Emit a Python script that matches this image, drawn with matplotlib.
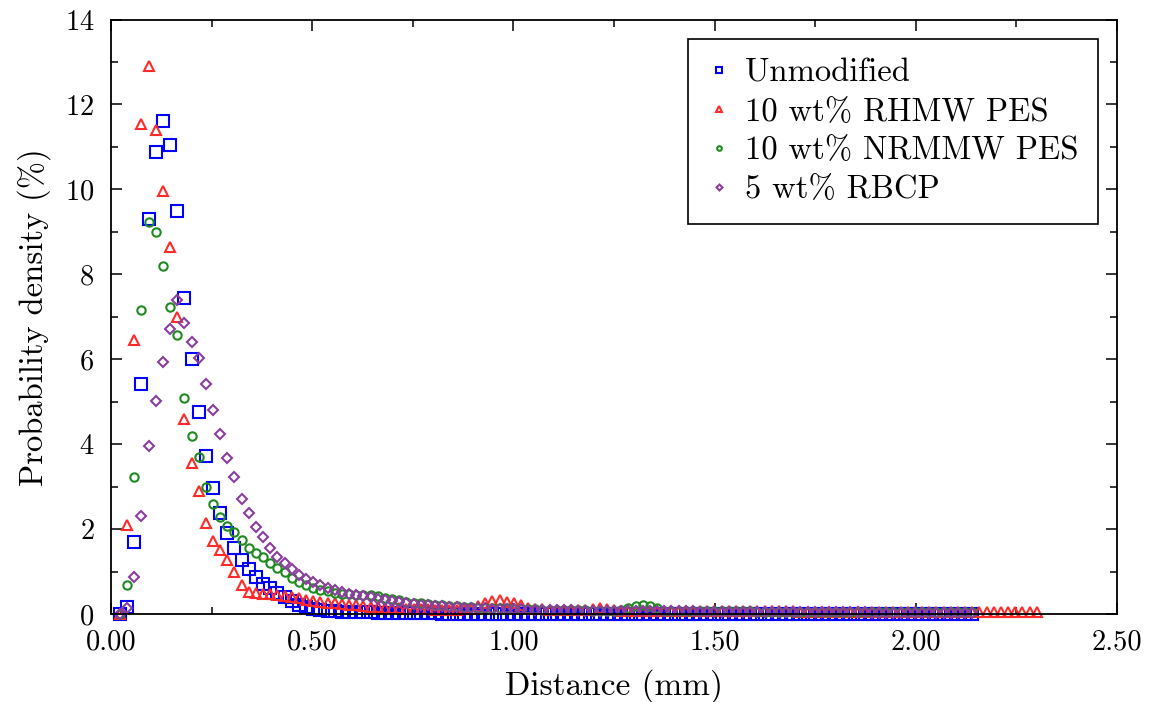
import matplotlib
matplotlib.use('Agg')
import matplotlib.pyplot as plt
from matplotlib.ticker import MultipleLocator, FormatStrFormatter
import numpy as np

plt.rcParams['font.family'] = ['cmr10', 'DejaVu Serif']
plt.rcParams['mathtext.fontset'] = 'cm'
plt.rcParams['axes.formatter.use_mathtext'] = True

# histogram bins (mm): first bin centre and bin width
bin_start = 0.022
bin_width = 0.0178

labels = ['Unmodified', '10 wt% RHMW PES', '10 wt% NRMMW PES', '5 wt% RBCP']

unmodified = [
    0.0, 0.17, 1.7, 5.42, 9.3, 10.87, 11.6, 11.04, 9.5, 7.45,
    6.0, 4.76, 3.73, 2.97, 2.38, 1.91, 1.55, 1.27, 1.06, 0.87,
    0.7, 0.6, 0.5, 0.4, 0.3, 0.22, 0.16, 0.12, 0.09, 0.07,
    0.06, 0.05, 0.05, 0.04, 0.04, 0.04, 0.03, 0.03, 0.03, 0.03,
    0.02, 0.02, 0.02, 0.02, 0.02, 0.01, 0.01, 0.0, 0.0, 0.0,
    0.0, 0.0, 0.0, 0.0, 0.0, 0.0, 0.0, 0.0, 0.0, 0.0,
    0.0, 0.0, 0.0, 0.0, 0.0, 0.0, 0.0, 0.0, 0.0, 0.0,
    0.0, 0.0, 0.0, 0.0, 0.0, 0.0, 0.01, 0.01, 0.01, 0.01,
    0.01, 0.01, 0.01, 0.01, 0.01, 0.01, 0.01, 0.01, 0.01, 0.01,
    0.01, 0.01, 0.01, 0.01, 0.01, 0.01, 0.01, 0.01, 0.01, 0.01,
    0.01, 0.01, 0.01, 0.01, 0.01, 0.01, 0.01, 0.01, 0.01, 0.01,
    0.01, 0.01, 0.01, 0.01, 0.01, 0.01, 0.01, 0.01, 0.01, 0.01,
]

rhmw = [
    0.0, 2.1, 6.45, 11.55, 12.9, 11.4, 9.95, 8.65, 7.0, 4.6,
    3.55, 2.9, 2.15, 1.72, 1.5, 1.27, 1.0, 0.68, 0.52, 0.5,
    0.48, 0.46, 0.45, 0.42, 0.4, 0.37, 0.34, 0.31, 0.29, 0.27,
    0.25, 0.23, 0.21, 0.2, 0.18, 0.17, 0.16, 0.15, 0.14, 0.13,
    0.12, 0.12, 0.11, 0.11, 0.1, 0.1, 0.1, 0.1, 0.11, 0.12,
    0.18, 0.26, 0.3, 0.33, 0.29, 0.27, 0.2, 0.14, 0.12, 0.11,
    0.1, 0.1, 0.1, 0.09, 0.09, 0.09, 0.12, 0.15, 0.12, 0.09,
    0.08, 0.08, 0.08, 0.08, 0.07, 0.07, 0.07, 0.07, 0.07, 0.07,
    0.07, 0.07, 0.06, 0.06, 0.06, 0.06, 0.06, 0.06, 0.06, 0.06,
    0.06, 0.06, 0.06, 0.06, 0.06, 0.05, 0.05, 0.05, 0.05, 0.05,
    0.05, 0.05, 0.05, 0.05, 0.05, 0.05, 0.05, 0.05, 0.05, 0.05,
    0.05, 0.05, 0.05, 0.05, 0.05, 0.04, 0.04, 0.04, 0.04, 0.04,
    0.04, 0.04, 0.04, 0.04, 0.04, 0.04, 0.04, 0.04, 0.04,
]

nrmmw = [
    0.0, 0.68, 3.23, 7.15, 9.22, 9.0, 8.2, 7.24, 6.56, 5.09,
    4.2, 3.7, 3.0, 2.6, 2.29, 2.08, 1.93, 1.75, 1.56, 1.44,
    1.34, 1.2, 1.08, 0.99, 0.85, 0.75, 0.68, 0.62, 0.57, 0.53,
    0.5, 0.48, 0.47, 0.45, 0.44, 0.45, 0.42, 0.38, 0.35, 0.32,
    0.29, 0.27, 0.25, 0.23, 0.21, 0.2, 0.19, 0.18, 0.17, 0.16,
    0.15, 0.14, 0.14, 0.13, 0.13, 0.12, 0.12, 0.11, 0.11, 0.1,
    0.1, 0.1, 0.09, 0.09, 0.09, 0.09, 0.08, 0.08, 0.08, 0.08,
    0.1, 0.14, 0.18, 0.2, 0.19, 0.15, 0.08, 0.07, 0.07, 0.07,
    0.07, 0.06, 0.06, 0.06, 0.06, 0.06, 0.06, 0.06, 0.06, 0.05,
    0.05, 0.05, 0.05, 0.05, 0.05, 0.05, 0.05, 0.05, 0.05, 0.05,
    0.05, 0.05, 0.05, 0.04, 0.04, 0.04, 0.04, 0.04, 0.04, 0.04,
    0.04, 0.04, 0.04, 0.04, 0.04, 0.04, 0.04, 0.04, 0.04, 0.04,
]

rbcp = [
    0.0, 0.15, 0.87, 2.3, 3.95, 5.02, 5.94, 6.7, 7.4, 6.86,
    6.41, 6.04, 5.42, 4.81, 4.25, 3.68, 3.23, 2.71, 2.38, 2.05,
    1.82, 1.56, 1.34, 1.2, 1.06, 0.92, 0.83, 0.75, 0.68, 0.62,
    0.57, 0.52, 0.48, 0.45, 0.42, 0.39, 0.36, 0.33, 0.3, 0.28,
    0.26, 0.24, 0.22, 0.2, 0.19, 0.18, 0.17, 0.16, 0.15, 0.14,
    0.13, 0.13, 0.12, 0.12, 0.11, 0.11, 0.11, 0.1, 0.1, 0.1,
    0.09, 0.09, 0.09, 0.09, 0.08, 0.08, 0.08, 0.08, 0.08, 0.07,
    0.07, 0.07, 0.07, 0.07, 0.06, 0.06, 0.06, 0.06, 0.06, 0.06,
    0.06, 0.05, 0.05, 0.05, 0.05, 0.05, 0.05, 0.05, 0.05, 0.05,
    0.04, 0.04, 0.04, 0.04, 0.04, 0.04, 0.04, 0.04, 0.04, 0.04,
    0.04, 0.04, 0.04, 0.04, 0.04, 0.03, 0.03, 0.03, 0.03, 0.03,
    0.03, 0.03, 0.03, 0.03, 0.03, 0.03, 0.03, 0.03, 0.03, 0.03,
]

series = [unmodified, rhmw, nrmmw, rbcp]
markers = ['s', '^', 'o', 'D']
colors = ['#0000ff', '#ff2a2a', '#1f8a1f', '#8a3f9e']
sizes = [8.0, 7.0, 6.0, 5.5]

fig = plt.figure(figsize=(11.53, 7.02), dpi=100)
ax = fig.add_axes([0.0963, 0.1254, 0.9688 - 0.0963, 0.9722 - 0.1254])

for y, m, c, s, lab in zip(series, markers, colors, sizes, labels):
    x = bin_start + bin_width * np.arange(len(y))
    ax.plot(x, y, linestyle='none', marker=m, markersize=s,
            markerfacecolor='none', markeredgecolor=c, markeredgewidth=1.5,
            label=lab, clip_on=False)

ax.set_xlim(0, 2.5)
ax.set_ylim(0, 14)
ax.xaxis.set_major_locator(MultipleLocator(0.5))
ax.xaxis.set_minor_locator(MultipleLocator(0.25))
ax.xaxis.set_major_formatter(FormatStrFormatter('%.2f'))
ax.yaxis.set_major_locator(MultipleLocator(2))
ax.yaxis.set_minor_locator(MultipleLocator(1))
ax.tick_params(which='both', direction='in', top=True, right=True,
               labelsize=20.5, width=1.1)
ax.tick_params(axis='x', pad=11)
ax.tick_params(axis='y', pad=12)
ax.tick_params(which='major', length=8)
ax.tick_params(which='minor', length=5)
for sp in ax.spines.values():
    sp.set_linewidth(1.3)

ax.set_xlabel('Distance (mm)', fontsize=24, labelpad=10)
ax.set_ylabel('Probability density (%)', fontsize=23.5, labelpad=10)

leg = ax.legend(loc='upper right', bbox_to_anchor=(0.981, 0.967),
                borderaxespad=0, fontsize=23.5, markerscale=0.55,
                handlelength=0.7, handletextpad=0.45, labelspacing=0.3,
                borderpad=0.6, fancybox=False, framealpha=1)
leg.get_frame().set_edgecolor('black')
leg.get_frame().set_linewidth(1.2)

plt.savefig('out.png', dpi=100)
